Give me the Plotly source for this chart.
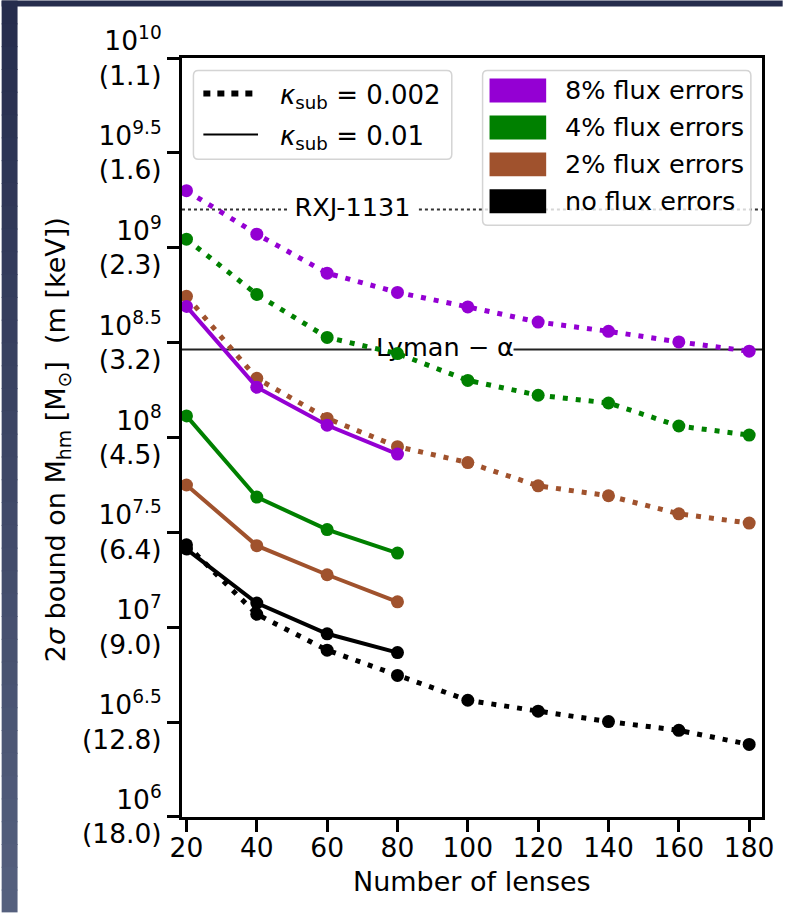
import plotly.graph_objects as go

W, H = 786, 913

# ---------------- data ----------------
n_lenses_long = [20, 40, 60, 80, 100, 120, 140, 160, 180]
n_lenses_short = [20, 40, 60, 80]

# kappa_sub = 0.002 (dotted)
m_8pct_k0002 = [2.00e9, 1.18e9, 7.35e8, 5.82e8, 4.88e8, 4.06e8, 3.63e8, 3.19e8, 2.85e8]
m_4pct_k0002 = [1.11e9, 5.68e8, 3.37e8, 2.77e8, 2.00e8, 1.67e8, 1.52e8, 1.15e8, 1.03e8]
m_2pct_k0002 = [5.55e8, 2.05e8, 1.26e8, 8.95e7, 7.38e7, 5.56e7, 4.93e7, 3.96e7, 3.54e7]
m_0pct_k0002 = [2.72e7, 1.17e7, 7.57e6, 5.57e6, 4.12e6, 3.61e6, 3.18e6, 2.86e6, 2.41e6]

# kappa_sub = 0.01 (solid)
m_8pct_k001 = [4.91e8, 1.84e8, 1.16e8, 8.18e7]
m_4pct_k001 = [1.30e8, 4.85e7, 3.27e7, 2.46e7]
m_2pct_k001 = [5.62e7, 2.69e7, 1.89e7, 1.36e7]
m_0pct_k001 = [2.58e7, 1.34e7, 9.23e6, 7.35e6]

series_names = ["8% flux errors", "4% flux errors", "2% flux errors", "no flux errors"]
series_colors = ["#9400D3", "#008000", "#A0522D", "#000000"]

kappa_labels = ["0.002", "0.01"]

ref_labels = ["RXJ-1131", "Lyman \u2212 \u03b1"]
ref_values = [1.59e9, 2.91e8]

y_tick_vals = [1e6, 3.1623e6, 1e7, 3.1623e7, 1e8, 3.1623e8, 1e9, 3.1623e9, 1e10]
y_tick_exp = ["6", "6.5", "7", "7.5", "8", "8.5", "9", "9.5", "10"]
y_tick_kev = ["(18.0)", "(12.8)", "(9.0)", "(6.4)", "(4.5)", "(3.2)", "(2.3)", "(1.6)", "(1.1)"]
x_tick_vals = [20, 40, 60, 80, 100, 120, 140, 160, 180]

# ---------------- layout geometry ----------------
PL, PR, PT, PB = 181.5, 765.2, 57.5, 817.5
X_RANGE = [18.73, 183.65]
FONT = "DejaVu Sans"
FS_TITLE = 27
FS_TICK = 26.5
FS_LEG = 25.5

# inline label placement (x of label centre, gap in the line around it)
ref_label_x = [67.2, 93.5]
ref_gap = [(49.1, 86.1), (72.6, 113.0)]
ref_line_style = [dict(color="#333333", width=2, dash="3px,3px"),
                  dict(color="#222222", width=2)]


def px(x):
    return (x - PL) / (PR - PL)


def py(y):
    return (PB - y) / (PB - PT)


def rrect(x0, y0, x1, y1, r):
    pts = [
        ("M", x0 + r, y0), ("L", x1 - r, y0), ("Q", x1, y0, x1, y0 + r),
        ("L", x1, y1 - r), ("Q", x1, y1, x1 - r, y1), ("L", x0 + r, y1),
        ("Q", x0, y1, x0, y1 - r), ("L", x0, y0 + r), ("Q", x0, y0, x0 + r, y0),
    ]
    s = ""
    for p in pts:
        coords = p[1:]
        parts = []
        for i in range(0, len(coords), 2):
            parts.append(f"{px(coords[i]):.5f},{py(coords[i+1]):.5f}")
        s += p[0] + " " + " ".join(parts) + " "
    return s + "Z"


fig = go.Figure()

# reference lines with a gap for their inline labels
for v, gap, st in zip(ref_values, ref_gap, ref_line_style):
    fig.add_trace(go.Scatter(
        x=[X_RANGE[0], gap[0], None, gap[1], X_RANGE[1]], y=[v, v, None, v, v],
        mode="lines", line=st, showlegend=False, hoverinfo="skip"))

fig.add_trace(go.Scatter(
    x=ref_label_x, y=ref_values, mode="text", text=ref_labels,
    textposition="middle center",
    textfont=dict(family=FONT, size=FS_LEG, color="black"),
    showlegend=False, hoverinfo="skip"))

dotted = [m_8pct_k0002, m_4pct_k0002, m_2pct_k0002, m_0pct_k0002]
solid = [m_8pct_k001, m_4pct_k001, m_2pct_k001, m_0pct_k001]

for vals, name, col in zip(dotted, series_names, series_colors):
    fig.add_trace(go.Scatter(
        x=n_lenses_long, y=vals, mode="lines+markers", name=name,
        line=dict(color=col, width=5, dash="5px,8px"),
        marker=dict(color=col, size=13, symbol="circle"),
        showlegend=False, hoverinfo="skip"))

for vals, name, col in zip(solid, series_names, series_colors):
    fig.add_trace(go.Scatter(
        x=n_lenses_short, y=vals, mode="lines+markers", name=name,
        line=dict(color=col, width=4),
        marker=dict(color=col, size=13, symbol="circle"),
        showlegend=False, hoverinfo="skip"))

shapes = []

# background slide strips
shapes.append(dict(type="rect", xref="paper", yref="paper", layer="below",
                   x0=px(0), x1=px(W), y0=py(0), y1=py(6),
                   fillcolor="#262d4d", line=dict(width=0)))
steps = 40
c0 = (0x26, 0x2d, 0x4d)
c1 = (0x55, 0x60, 0x7e)
for i in range(steps):
    t = i / (steps - 1)
    c = tuple(int(round(a + (b - a) * t)) for a, b in zip(c0, c1))
    y0 = H * i / steps
    y1 = min(H * (i + 1) / steps + 1, H)
    shapes.append(dict(type="rect", xref="paper", yref="paper", layer="below",
                       x0=px(0), x1=px(16), y0=py(y0), y1=py(y1),
                       fillcolor="rgb(%d,%d,%d)" % c, line=dict(width=0)))

# legend 1 (line styles)
shapes.append(dict(type="path", xref="paper", yref="paper", layer="above",
                   path=rrect(193, 70, 453, 159, 5),
                   fillcolor="rgba(255,255,255,0.8)", line=dict(color="#d4d4d4", width=1.5)))
shapes.append(dict(type="line", xref="paper", yref="paper", layer="above",
                   x0=px(203), x1=px(258), y0=py(93), y1=py(93),
                   line=dict(color="black", width=6, dash="7px,7px")))
shapes.append(dict(type="line", xref="paper", yref="paper", layer="above",
                   x0=px(203), x1=px(258), y0=py(134), y1=py(134),
                   line=dict(color="black", width=2)))

# legend 2 (colours)
shapes.append(dict(type="path", xref="paper", yref="paper", layer="above",
                   path=rrect(484, 70, 754, 225, 5),
                   fillcolor="rgba(255,255,255,0.8)", line=dict(color="#d4d4d4", width=1.5)))
row_y = [90, 127, 164, 201]
for yy, col in zip(row_y, series_colors):
    shapes.append(dict(type="rect", xref="paper", yref="paper", layer="above",
                       x0=px(491), x1=px(548), y0=py(yy - 12), y1=py(yy + 12),
                       fillcolor=col, line=dict(width=0)))

annotations = []
for yy, name in zip(row_y, series_names):
    annotations.append(dict(xref="paper", yref="paper", x=px(565), y=py(yy),
                            xanchor="left", yanchor="middle", showarrow=False,
                            text=name, font=dict(family=FONT, size=FS_LEG, color="black")))
for yy, lab in zip([96, 137], kappa_labels):
    annotations.append(dict(xref="paper", yref="paper", x=px(278), y=py(yy),
                            xanchor="left", yanchor="middle", showarrow=False,
                            text="<i>\u03ba</i><sub>sub</sub> = " + lab,
                            font=dict(family=FONT, size=FS_LEG + 0.5, color="black")))

# axis titles
annotations.append(dict(xref="paper", yref="paper", x=px(473), y=py(882),
                        xanchor="center", yanchor="middle", showarrow=False,
                        text="Number of lenses", font=dict(family=FONT, size=FS_TITLE, color="black")))
annotations.append(dict(xref="paper", yref="paper", x=px(57), y=py(440),
                        xanchor="center", yanchor="middle", showarrow=False, textangle=-90,
                        text="2<i>\u03c3</i> bound on M<sub>hm</sub> [M<sub>\u2299</sub>]  (m [keV])",
                        font=dict(family=FONT, size=FS_TITLE, color="black")))

y_tick_text = ["10<sup>%s</sup><br>%s" % (e, k) for e, k in zip(y_tick_exp, y_tick_kev)]

fig.update_layout(
    width=W, height=H,
    margin=dict(l=PL, r=W - PR, t=PT, b=H - PB, pad=0),
    paper_bgcolor="white", plot_bgcolor="white",
    showlegend=False, hovermode=False,
    font=dict(family=FONT, size=FS_TICK, color="black"),
    shapes=shapes, annotations=annotations,
    xaxis=dict(range=X_RANGE, tickvals=x_tick_vals,
               ticks="outside", ticklen=12, tickwidth=3, tickcolor="black",
               showline=True, linewidth=3, linecolor="black", mirror=True,
               showgrid=False, zeroline=False, ticklabelstandoff=-7,
               tickfont=dict(family=FONT, size=FS_TICK, color="black")),
    yaxis=dict(type="log", range=[5.9995, 10.0005], tickvals=y_tick_vals, ticktext=y_tick_text,
               ticks="outside", ticklen=12, tickwidth=3, tickcolor="black",
               showline=True, linewidth=3, linecolor="black", mirror=True,
               showgrid=False, zeroline=False,
               tickfont=dict(family=FONT, size=FS_TICK, color="black")),
)

fig.write_html("out.html", config={"displayModeBar": False})
